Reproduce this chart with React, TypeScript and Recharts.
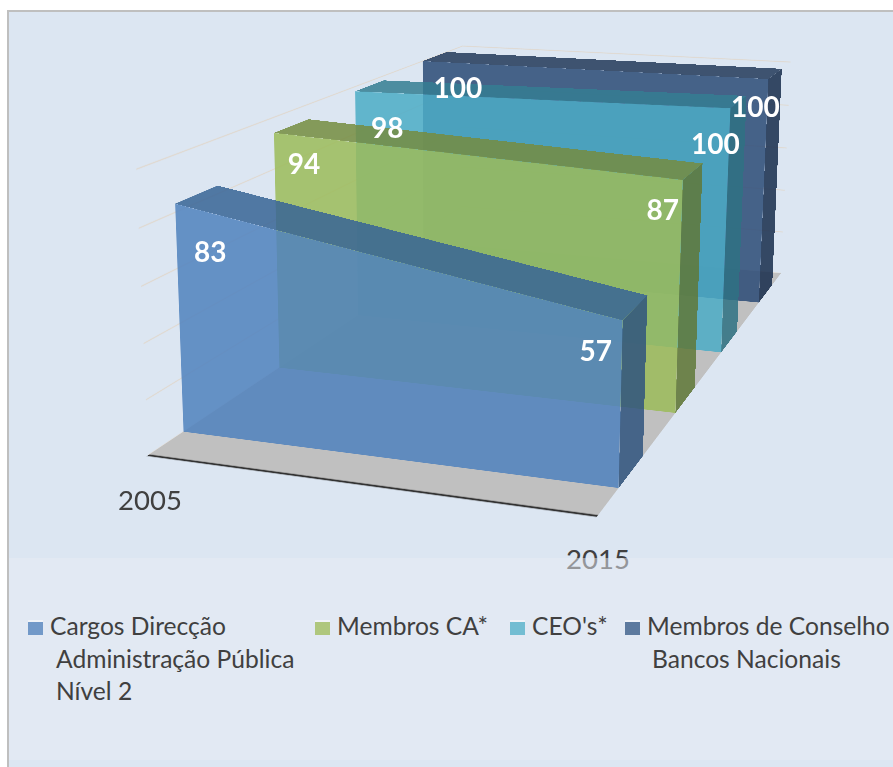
import { AreaChart, Area, XAxis, YAxis, ReferenceLine } from "recharts";

// ---------------------------------------------------------------------------
// Data
// ---------------------------------------------------------------------------

const YEARS = ["2005", "2015"];
const CARGOS = [83, 57];
const MEMBROS_CA = [94, 87];
const CEOS = [98, 100];
const BANCOS = [100, 100];
const VALUE_TICKS = [0, 20, 40, 60, 80, 100];

const LEGEND_CARGOS = ["Cargos Direcção", "Administração Pública", "Nível 2"];
const LEGEND_CA = ["Membros CA*"];
const LEGEND_CEOS = ["CEO's*"];
const LEGEND_BANCOS = ["Membros de Conselho", "Bancos Nacionais"];

// Back-to-front drawing order is the reverse of this list.
const SERIES = [
  { values: CARGOS, legend: LEGEND_CARGOS, front: "#4F81BD", top: "#376495", side: "#2F537E", swatch: "#7299C8", legendX: 28, lineIndent: 28 },
  { values: MEMBROS_CA, legend: LEGEND_CA, front: "#9BBB59", top: "#748C3F", side: "#5F7837", swatch: "#AFC77D", legendX: 315, lineIndent: 23 },
  { values: CEOS, legend: LEGEND_CEOS, front: "#4BACC6", top: "#347C92", side: "#2E7182", swatch: "#73BDD2", legendX: 510, lineIndent: 21 },
  { values: BANCOS, legend: LEGEND_BANCOS, front: "#2A4A75", top: "#223859", side: "#162C4B", swatch: "#5D7A9E", legendX: 625, lineIndent: 27 },
];

// Depth of each slab on the floor (0 = front edge, 1 = back wall).
const SLOT = 0.25;
const GAP = 0.08;
const THICKNESS = 0.1;

// Pixel offsets of the value labels from the slab's top corners.
const LABEL_OFFSET_LEFT = [[35, 47], [30, 30], [32, 36], [35, 26]];
const LABEL_OFFSET_RIGHT = [[-27, 30], [-20, 29], [-15, 35], [-13, 27]];

// ---------------------------------------------------------------------------
// Projection: x (0-1), value (0-100), depth (0-1) -> screen, calibrated on the
// corners of the 3D box as seen in the picture
// ---------------------------------------------------------------------------

const CAMERA_POINTS = [
  [0, 0, 0, 149, 454], [1, 0, 0, 599, 516], [1, 0, 1, 781, 272], [0, 0, 1, 461, 246],
  [0, 100, 0, 137, 168], [0, 100, 1, 463, 46], [1, 100, 1, 792, 62],
  [0, 83, 0.08, 174, 204], [1, 57, 0.08, 622, 321], [1, 0, 0.08, 618, 488], [0, 0, 0.08, 183, 433],
  [0, 94, 0.33, 274, 132], [1, 87, 0.33, 683, 180], [1, 0, 0.33, 676, 413], [0, 0, 0.33, 280, 368],
  [0, 98, 0.58, 355, 91], [1, 100, 0.58, 730, 108], [1, 0, 0.58, 721, 352], [0, 0, 0.58, 358, 315],
  [0, 100, 0.83, 423, 62], [1, 100, 0.83, 768, 79], [1, 0, 0.83, 759, 303],
  [1, 57, 0.18, 647, 296], [0, 83, 0.18, 217, 186], [1, 87, 0.43, 702, 164], [0, 94, 0.43, 309, 119],
  [1, 100, 0.93, 781, 69], [0, 100, 0.93, 447, 52],
];

function solveLeastSquares(rows: number[][], rhs: number[]): number[] {
  const n = rows[0].length;
  const m = Array.from({ length: n }, (_, i) => {
    const row = new Array(n + 1).fill(0);
    rows.forEach((r, k) => {
      for (let j = 0; j < n; j++) row[j] += r[i] * r[j];
      row[n] += r[i] * rhs[k];
    });
    return row;
  });
  for (let c = 0; c < n; c++) {
    let pivot = c;
    for (let r = c + 1; r < n; r++) if (Math.abs(m[r][c]) > Math.abs(m[pivot][c])) pivot = r;
    [m[c], m[pivot]] = [m[pivot], m[c]];
    for (let r = 0; r < n; r++) {
      if (r === c) continue;
      const f = m[r][c] / m[c][c];
      for (let j = c; j <= n; j++) m[r][j] -= f * m[c][j];
    }
  }
  return m.map((row, i) => row[n] / row[i]);
}

function fitCamera(): number[] {
  const rows: number[][] = [];
  const rhs: number[] = [];
  for (const [x, value, z, sx, sy] of CAMERA_POINTS) {
    const v = value / 100;
    rows.push([x, v, z, 1, 0, 0, 0, 0, -sx * x, -sx * v, -sx * z]);
    rhs.push(sx);
    rows.push([0, 0, 0, 0, x, v, z, 1, -sy * x, -sy * v, -sy * z]);
    rhs.push(sy);
  }
  return solveLeastSquares(rows, rhs);
}

const CAM = fitCamera();

function project(x: number, value: number, z: number): [number, number] {
  const v = value / 100;
  const w = CAM[8] * x + CAM[9] * v + CAM[10] * z + 1;
  return [
    (CAM[0] * x + CAM[1] * v + CAM[2] * z + CAM[3]) / w,
    (CAM[4] * x + CAM[5] * v + CAM[6] * z + CAM[7]) / w,
  ];
}

// ---------------------------------------------------------------------------
// Face: a small Recharts chart mapped onto a screen quad with matrix3d
// ---------------------------------------------------------------------------

const SIZE = 500;
const PAD = 12;

type Pt = [number, number];

function quadMatrix([p0, p1, p2, p3]: Pt[]): string {
  const dx1 = p1[0] - p2[0];
  const dx2 = p3[0] - p2[0];
  const sx = p0[0] - p1[0] + p2[0] - p3[0];
  const dy1 = p1[1] - p2[1];
  const dy2 = p3[1] - p2[1];
  const sy = p0[1] - p1[1] + p2[1] - p3[1];
  const den = dx1 * dy2 - dx2 * dy1;
  const g = (sx * dy2 - dx2 * sy) / den;
  const h = (dx1 * sy - sx * dy1) / den;
  const a = p1[0] - p0[0] + g * p1[0];
  const b = p3[0] - p0[0] + h * p3[0];
  const d = p1[1] - p0[1] + g * p1[1];
  const e = p3[1] - p0[1] + h * p3[1];
  const m = [a / SIZE, d / SIZE, 0, g / SIZE, b / SIZE, e / SIZE, 0, h / SIZE, 0, 0, 1, 0, p0[0], p0[1], 0, 1];
  return `matrix3d(${m.join(",")}) translate(${-PAD}px,${-PAD}px)`;
}

function Face({ quad, children }: { quad: Pt[]; children: React.ReactNode }) {
  return (
    <div
      style={{
        position: "absolute",
        left: 0,
        top: 0,
        width: SIZE + 2 * PAD,
        height: SIZE + 2 * PAD,
        transformOrigin: "0 0",
        transform: quadMatrix(quad),
      }}
    >
      {children}
    </div>
  );
}

const CHART_PROPS = {
  width: SIZE + 2 * PAD,
  height: SIZE + 2 * PAD,
  margin: { top: PAD, right: PAD, bottom: PAD, left: PAD },
};

// Filled rectangle, for the top / side / floor faces.
const FULL = [
  { edge: "a", fill: 1 },
  { edge: "b", fill: 1 },
];

function SolidFace({ quad, color, frontEdge }: { quad: Pt[]; color: string; frontEdge?: boolean }) {
  return (
    <Face quad={quad}>
      <AreaChart {...CHART_PROPS} data={FULL}>
        <XAxis dataKey="edge" hide />
        <YAxis domain={[0, 1]} hide />
        <Area dataKey="fill" type="linear" stroke="none" fill={color} fillOpacity={frontEdge ? 1 : 0.85} isAnimationActive={false} />
        {frontEdge && <ReferenceLine y={0} stroke="#333333" strokeWidth={2.5} />}
      </AreaChart>
    </Face>
  );
}

// The reference lines need a series on the chart before they get a scale, so
// the wall carries an unpainted one.
function GridWall({ quad }: { quad: Pt[] }) {
  return (
    <Face quad={quad}>
      <AreaChart {...CHART_PROPS} data={FULL}>
        <XAxis dataKey="edge" hide />
        <YAxis domain={[0, 100]} ticks={VALUE_TICKS} hide />
        <Area dataKey="fill" type="linear" stroke="none" fill="none" isAnimationActive={false} />
        {VALUE_TICKS.map((t) => (
          <ReferenceLine key={t} y={t} stroke="#DFDAD4" strokeWidth={2.5} />
        ))}
      </AreaChart>
    </Face>
  );
}

function Slab({ index }: { index: number }) {
  const s = SERIES[index];
  const [v0, v1] = s.values;
  const zf = GAP + index * SLOT;
  const zb = zf + THICKNESS;
  const rows = YEARS.map((year, i) => ({ year, value: s.values[i] }));
  return (
    <>
      <SolidFace
        color={s.side}
        quad={[project(1, v1, zf), project(1, v1, zb), project(1, 0, zb), project(1, 0, zf)]}
      />
      <SolidFace
        color={s.top}
        quad={[project(0, v0, zb), project(1, v1, zb), project(1, v1, zf), project(0, v0, zf)]}
      />
      <Face quad={[project(0, 100, zf), project(1, 100, zf), project(1, 0, zf), project(0, 0, zf)]}>
        <AreaChart {...CHART_PROPS} data={rows}>
          <XAxis dataKey="year" hide />
          <YAxis domain={[0, 100]} hide />
          <Area
            dataKey="value"
            name={s.legend.join(" ")}
            type="linear"
            stroke="none"
            fill={s.front}
            fillOpacity={0.85}
            isAnimationActive={false}
          />
        </AreaChart>
      </Face>
    </>
  );
}

// ---------------------------------------------------------------------------
// Text overlays
// ---------------------------------------------------------------------------

const FONT = "Lato, 'Open Sans', sans-serif";

function CenteredText({ at, size, color, weight, children }: { at: Pt; size: number; color: string; weight?: number; children: string | number }) {
  return (
    <span
      style={{
        position: "absolute",
        left: at[0],
        top: at[1],
        transform: "translate(-50%,-50%)",
        fontFamily: FONT,
        fontSize: size,
        fontWeight: weight ?? 400,
        color,
        lineHeight: 1,
        whiteSpace: "nowrap",
      }}
    >
      {children}
    </span>
  );
}

function LegendEntry({ index }: { index: number }) {
  const s = SERIES[index];
  return (
    <>
      <span
        style={{
          position: "absolute",
          left: s.legendX,
          top: 620,
          width: 15,
          height: 15,
          background: s.swatch,
          borderTop: "2px solid #F0F3F8",
          boxSizing: "border-box",
        }}
      />
      {s.legend.map((line, i) => (
        <span
          key={line}
          style={{
            position: "absolute",
            left: s.legendX + (i === 0 ? 22 : s.lineIndent),
            top: 610 + i * 32.5,
            fontFamily: FONT,
            fontSize: 24.6,
            lineHeight: "32px",
            color: "#404040",
            whiteSpace: "nowrap",
          }}
        >
          {line}
        </span>
      ))}
    </>
  );
}

// ---------------------------------------------------------------------------
// Component
// ---------------------------------------------------------------------------

export default function App() {
  const order = SERIES.map((_, i) => SERIES.length - 1 - i);
  return (
    <div
      style={{
        position: "absolute",
        left: 0,
        top: 0,
        width: 893,
        height: 767,
        overflow: "hidden",
        background: "#FFFFFF",
      }}
    >
      <div
        style={{
          position: "absolute",
          left: 7,
          top: 10,
          width: 900,
          height: 770,
          background: "#DCE6F2",
          borderLeft: "2px solid #BFBFBF",
          borderTop: "2px solid #BFBFBF",
        }}
      />
      <GridWall quad={[project(0, 100, 0), project(0, 100, 1), project(0, 0, 1), project(0, 0, 0)]} />
      <GridWall quad={[project(0, 100, 1), project(1, 100, 1), project(1, 0, 1), project(0, 0, 1)]} />
      <SolidFace
        frontEdge
        color="#C0C0C0"
        quad={[project(0, 0, 1), project(1, 0, 1), project(1, 0, 0), project(0, 0, 0)]}
      />
      {order.map((i) => (
        <Slab key={i} index={i} />
      ))}
      {SERIES.map((s, i) => {
        const z = GAP + i * SLOT;
        const left = project(0, s.values[0], z);
        const right = project(1, s.values[1], z);
        return (
          <span key={i}>
            <CenteredText
              at={[left[0] + LABEL_OFFSET_LEFT[i][0], left[1] + LABEL_OFFSET_LEFT[i][1]]}
              size={28}
              weight={700}
              color="#FFFFFF"
            >
              {s.values[0]}
            </CenteredText>
            <CenteredText
              at={[right[0] + LABEL_OFFSET_RIGHT[i][0], right[1] + LABEL_OFFSET_RIGHT[i][1]]}
              size={28}
              weight={700}
              color="#FFFFFF"
            >
              {s.values[1]}
            </CenteredText>
          </span>
        );
      })}
      <CenteredText at={[150, 500]} size={27.5} color="#404040">
        {YEARS[0]}
      </CenteredText>
      <CenteredText at={[598, 559]} size={27.5} color="#404040">
        {YEARS[1]}
      </CenteredText>
      {/* legend band, slightly translucent: it veils the lower half of "2015" */}
      <div
        style={{
          position: "absolute",
          left: 9,
          top: 558,
          width: 884,
          height: 202,
          background: "rgba(232,236,243,0.5)",
        }}
      />
      {SERIES.map((_, i) => (
        <LegendEntry key={i} index={i} />
      ))}
    </div>
  );
}
